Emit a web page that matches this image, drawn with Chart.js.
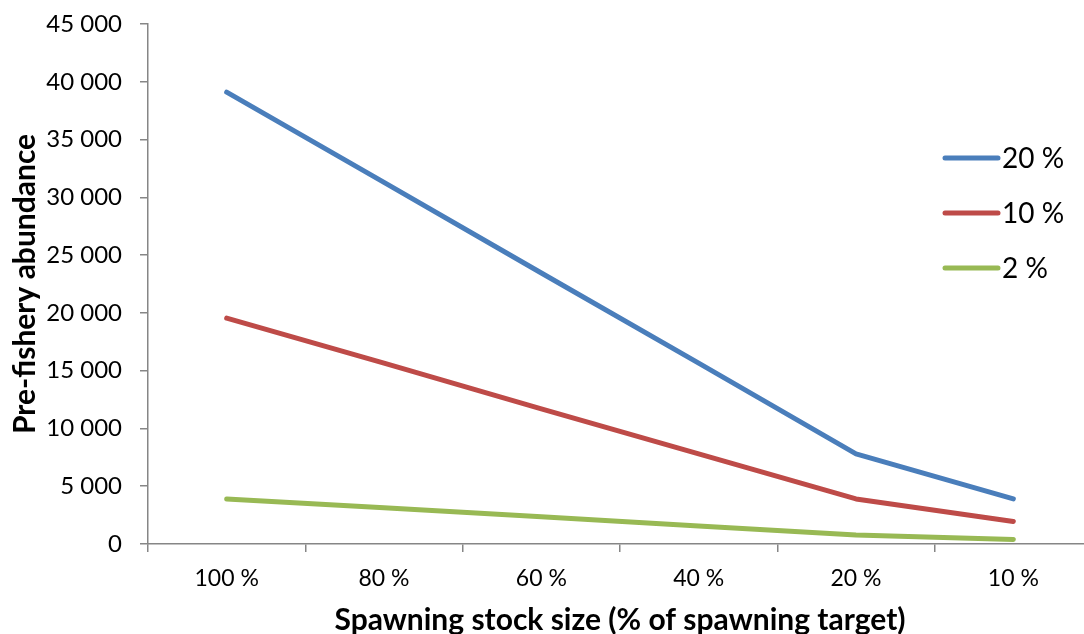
<!DOCTYPE html>
<html>
<head>
<meta charset="utf-8">
<script src="https://cdn.jsdelivr.net/npm/chart.js@4/dist/chart.umd.min.js"></script>
<style>
  html, body { margin: 0; padding: 0; background: #fff; overflow: hidden; }
</style>
</head>
<body>
<canvas id="line" width="1100" height="634"></canvas>
<script>
const stockSize = ["100 %", "80 %", "60 %", "40 %", "20 %", "10 %"];
const rate20 = [39100, 31300, 23450, 15650, 7800, 3900];
const rate10 = [19550, 15650, 11700, 7800, 3900, 1950];
const rate2 = [3900, 3130, 2350, 1560, 780, 390];

const axisGrey = "#868686";
const FONT = "Lato, 'Open Sans', sans-serif";

// legend drawn inside the plot, like the original
const insideLegend = {
  id: "insideLegend",
  afterDraw(chart) {
    const c = chart.ctx;
    c.save();
    chart.data.datasets.forEach((ds, i) => {
      const y = 158 + i * 55;
      c.strokeStyle = ds.borderColor;
      c.lineWidth = 5;
      c.lineCap = "round";
      c.beginPath();
      c.moveTo(945, y);
      c.lineTo(998, y);
      c.stroke();
      c.fillStyle = "#000";
      c.font = "28px " + FONT;
      c.textBaseline = "middle";
      c.fillText(ds.label, 1002, y + 1);
    });
    c.restore();
  },
};

new Chart(document.getElementById("line"), {
  type: "line",
  data: {
    labels: stockSize,
    datasets: [
      { label: "20 %", data: rate20, borderColor: "#4a7ebb" },
      { label: "10 %", data: rate10, borderColor: "#be4b48" },
      { label: "2 %", data: rate2, borderColor: "#98b954" },
    ],
  },
  options: {
    responsive: false,
    animation: false,
    layout: { padding: { top: 24, right: 8, left: 0, bottom: 0 } },
    elements: {
      line: { borderWidth: 5, tension: 0, borderCapStyle: "round", borderJoinStyle: "round" },
      point: { radius: 0 },
    },
    plugins: { legend: { display: false }, tooltip: { enabled: false } },
    scales: {
      y: {
        min: 0,
        max: 45000,
        border: { color: axisGrey, width: 1.5 },
        grid: { drawOnChartArea: false, drawTicks: true, tickLength: 8, color: axisGrey, lineWidth: 1.5 },
        ticks: {
          stepSize: 5000,
          padding: 18,
          color: "#000",
          font: { family: FONT, size: 24 },
          callback: (v) => v.toLocaleString("fr-FR").replace(/\s/g, " "),
        },
        title: {
          display: true,
          text: "Pre-fishery abundance",
          color: "#000",
          font: { family: FONT, size: 30, weight: "bold" },
          padding: { top: 7, bottom: 0 },
        },
        afterFit(scale) {
          scale.width = 148;
          scale.paddingTop = 0;
        },
      },
      x: {
        offset: true,
        border: { color: axisGrey, width: 1.5 },
        grid: { offset: true, drawOnChartArea: false, drawTicks: true, tickLength: 8, color: axisGrey, lineWidth: 1.5 },
        ticks: { padding: 13, color: "#000", font: { family: FONT, size: 23 }, maxRotation: 0 },
        title: {
          display: true,
          text: "Spawning stock size (% of spawning target)",
          color: "#000",
          font: { family: FONT, size: 30, weight: "bold" },
          padding: { top: 0, bottom: -4 },
        },
        afterFit(scale) { scale.height = 90; },
      },
    },
  },
  plugins: [insideLegend],
});
</script>
</body>
</html>
